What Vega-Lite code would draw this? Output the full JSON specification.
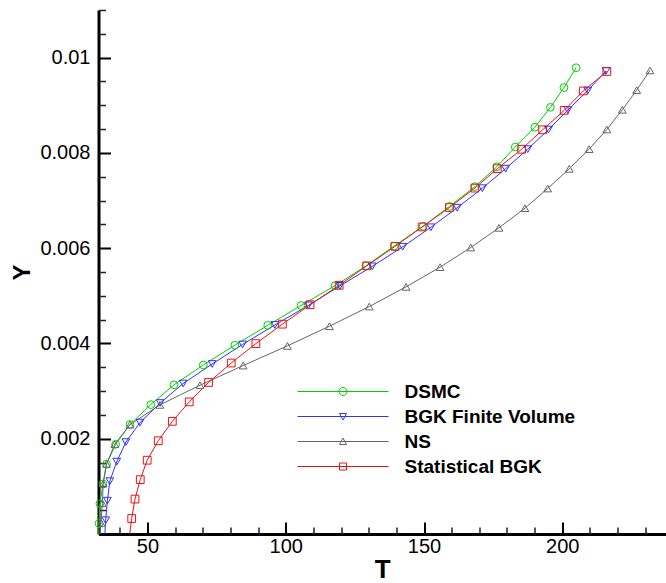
{
  "$schema": "https://vega.github.io/schema/vega-lite/v6.json",
  "width": 567.5,
  "height": 524,
  "autosize": {"type": "none"},
  "padding": {"left": 98.5, "top": 10, "right": 0, "bottom": 49},
  "background": "white",
  "config": {"view": {"stroke": null}, "axis": {"grid": false}},
  "data": {"values": [
    {"series": "DSMC", "T": 32.4, "Y": 0},
    {"series": "DSMC", "T": 32.5, "Y": 0.00022},
    {"series": "DSMC", "T": 32.8, "Y": 0.000636},
    {"series": "DSMC", "T": 33.9, "Y": 0.001052},
    {"series": "DSMC", "T": 35.2, "Y": 0.001468},
    {"series": "DSMC", "T": 38.5, "Y": 0.001884},
    {"series": "DSMC", "T": 43.7, "Y": 0.0023},
    {"series": "DSMC", "T": 51.2, "Y": 0.002716},
    {"series": "DSMC", "T": 59.6, "Y": 0.003132},
    {"series": "DSMC", "T": 70.2, "Y": 0.003548},
    {"series": "DSMC", "T": 81.6, "Y": 0.003964},
    {"series": "DSMC", "T": 93.5, "Y": 0.00438},
    {"series": "DSMC", "T": 105.5, "Y": 0.004796},
    {"series": "DSMC", "T": 117.8, "Y": 0.005212},
    {"series": "DSMC", "T": 129.0, "Y": 0.005628},
    {"series": "DSMC", "T": 139.2, "Y": 0.006044},
    {"series": "DSMC", "T": 149.7, "Y": 0.00646},
    {"series": "DSMC", "T": 159.2, "Y": 0.006876},
    {"series": "DSMC", "T": 168.4, "Y": 0.007292},
    {"series": "DSMC", "T": 176.3, "Y": 0.007708},
    {"series": "DSMC", "T": 183.0, "Y": 0.008124},
    {"series": "DSMC", "T": 190.1, "Y": 0.00854},
    {"series": "DSMC", "T": 195.7, "Y": 0.008956},
    {"series": "DSMC", "T": 200.6, "Y": 0.009372},
    {"series": "DSMC", "T": 205.0, "Y": 0.009788},

    {"series": "BGK Finite Volume", "T": 34.6, "Y": 0},
    {"series": "BGK Finite Volume", "T": 34.9, "Y": 0.000289},
    {"series": "BGK Finite Volume", "T": 35.5, "Y": 0.000699},
    {"series": "BGK Finite Volume", "T": 36.4, "Y": 0.001109},
    {"series": "BGK Finite Volume", "T": 38.9, "Y": 0.001519},
    {"series": "BGK Finite Volume", "T": 42.2, "Y": 0.001929},
    {"series": "BGK Finite Volume", "T": 47.3, "Y": 0.002339},
    {"series": "BGK Finite Volume", "T": 54.6, "Y": 0.002749},
    {"series": "BGK Finite Volume", "T": 62.9, "Y": 0.003159},
    {"series": "BGK Finite Volume", "T": 73.4, "Y": 0.003569},
    {"series": "BGK Finite Volume", "T": 84.4, "Y": 0.003979},
    {"series": "BGK Finite Volume", "T": 96.1, "Y": 0.004389},
    {"series": "BGK Finite Volume", "T": 108.2, "Y": 0.004799},
    {"series": "BGK Finite Volume", "T": 119.6, "Y": 0.005209},
    {"series": "BGK Finite Volume", "T": 131.3, "Y": 0.005619},
    {"series": "BGK Finite Volume", "T": 142.3, "Y": 0.006029},
    {"series": "BGK Finite Volume", "T": 152.5, "Y": 0.006439},
    {"series": "BGK Finite Volume", "T": 162.0, "Y": 0.006849},
    {"series": "BGK Finite Volume", "T": 171.1, "Y": 0.007259},
    {"series": "BGK Finite Volume", "T": 179.5, "Y": 0.007669},
    {"series": "BGK Finite Volume", "T": 187.5, "Y": 0.008079},
    {"series": "BGK Finite Volume", "T": 195.0, "Y": 0.008489},
    {"series": "BGK Finite Volume", "T": 202.0, "Y": 0.008899},
    {"series": "BGK Finite Volume", "T": 209.2, "Y": 0.009309},
    {"series": "BGK Finite Volume", "T": 215.8, "Y": 0.009719},

    {"series": "NS", "T": 32.9, "Y": 0},
    {"series": "NS", "T": 33.2, "Y": 0.000232},
    {"series": "NS", "T": 33.7, "Y": 0.000645},
    {"series": "NS", "T": 34.0, "Y": 0.001058},
    {"series": "NS", "T": 35.2, "Y": 0.001471},
    {"series": "NS", "T": 38.2, "Y": 0.001884},
    {"series": "NS", "T": 43.7, "Y": 0.002297},
    {"series": "NS", "T": 54.5, "Y": 0.00271},
    {"series": "NS", "T": 69.0, "Y": 0.003123},
    {"series": "NS", "T": 84.6, "Y": 0.003536},
    {"series": "NS", "T": 100.6, "Y": 0.003949},
    {"series": "NS", "T": 115.8, "Y": 0.004362},
    {"series": "NS", "T": 130.2, "Y": 0.004775},
    {"series": "NS", "T": 143.5, "Y": 0.005188},
    {"series": "NS", "T": 155.8, "Y": 0.005601},
    {"series": "NS", "T": 166.9, "Y": 0.006014},
    {"series": "NS", "T": 177.1, "Y": 0.006427},
    {"series": "NS", "T": 186.5, "Y": 0.00684},
    {"series": "NS", "T": 194.7, "Y": 0.007253},
    {"series": "NS", "T": 202.5, "Y": 0.007666},
    {"series": "NS", "T": 209.7, "Y": 0.008079},
    {"series": "NS", "T": 216.1, "Y": 0.008492},
    {"series": "NS", "T": 221.7, "Y": 0.008905},
    {"series": "NS", "T": 226.9, "Y": 0.009318},
    {"series": "NS", "T": 231.7, "Y": 0.009731},

    {"series": "Statistical BGK", "T": 43.6, "Y": 0},
    {"series": "Statistical BGK", "T": 44.3, "Y": 0.000325},
    {"series": "Statistical BGK", "T": 45.5, "Y": 0.000733},
    {"series": "Statistical BGK", "T": 47.4, "Y": 0.001141},
    {"series": "Statistical BGK", "T": 49.9, "Y": 0.001549},
    {"series": "Statistical BGK", "T": 53.9, "Y": 0.001957},
    {"series": "Statistical BGK", "T": 59.0, "Y": 0.002365},
    {"series": "Statistical BGK", "T": 65.1, "Y": 0.002773},
    {"series": "Statistical BGK", "T": 72.1, "Y": 0.003181},
    {"series": "Statistical BGK", "T": 80.3, "Y": 0.003589},
    {"series": "Statistical BGK", "T": 89.2, "Y": 0.003997},
    {"series": "Statistical BGK", "T": 98.8, "Y": 0.004405},
    {"series": "Statistical BGK", "T": 108.8, "Y": 0.004813},
    {"series": "Statistical BGK", "T": 119.3, "Y": 0.005221},
    {"series": "Statistical BGK", "T": 129.3, "Y": 0.005629},
    {"series": "Statistical BGK", "T": 139.5, "Y": 0.006037},
    {"series": "Statistical BGK", "T": 149.3, "Y": 0.006445},
    {"series": "Statistical BGK", "T": 159.2, "Y": 0.006853},
    {"series": "Statistical BGK", "T": 168.4, "Y": 0.007261},
    {"series": "Statistical BGK", "T": 176.5, "Y": 0.007669},
    {"series": "Statistical BGK", "T": 185.3, "Y": 0.008077},
    {"series": "Statistical BGK", "T": 192.9, "Y": 0.008485},
    {"series": "Statistical BGK", "T": 200.7, "Y": 0.008893},
    {"series": "Statistical BGK", "T": 207.6, "Y": 0.009301},
    {"series": "Statistical BGK", "T": 216.1, "Y": 0.009709}
  ]},
  "resolve": {
    "scale": {"shape": "independent", "color": "independent"},
    "axis": {"x": "independent", "y": "independent"}
  },
  "layer": [
    {
      "mark": {"type": "line", "strokeWidth": 1},
      "encoding": {
        "x": {"field": "T", "type": "quantitative",
          "scale": {"domain": [32.3, 237.5], "nice": false, "zero": false},
          "axis": {"orient": "bottom", "values": [50, 100, 150, 200], "format": "d",
            "tickSize": -12, "tickWidth": 2, "tickColor": "black",
            "domainColor": "black", "domainWidth": 3,
            "labelFont": "Liberation Sans", "labelFontSize": 20, "labelColor": "black",
            "labelPadding": 14.5, "labelFlush": false, "labelOverlap": false,
            "title": "T", "titleFont": "Liberation Sans", "titleFontSize": 26,
            "titleFontWeight": "bold", "titleColor": "black", "titlePadding": 0}},
        "y": {"field": "Y", "type": "quantitative",
          "scale": {"domain": [0, 0.011], "nice": false, "zero": false},
          "axis": {"orient": "left", "values": [0.002, 0.004, 0.006, 0.008, 0.01], "format": "~g",
            "tickSize": -12, "tickWidth": 2, "tickColor": "black",
            "domainColor": "black", "domainWidth": 3,
            "labelFont": "Liberation Sans", "labelFontSize": 20, "labelColor": "black",
            "labelPadding": 20.5, "labelFlush": false, "labelOverlap": false,
            "title": "Y", "titleFont": "Liberation Sans", "titleFontSize": 24,
            "titleFontWeight": "bold", "titleColor": "black", "titlePadding": 5}},
        "color": {"field": "series", "type": "nominal",
          "scale": {"domain": ["DSMC", "BGK Finite Volume", "NS", "Statistical BGK"],
                    "range": ["#00d000", "#3030ff", "#666666", "#ee1111"]},
          "legend": null},
        "order": {"field": "Y", "type": "quantitative"}
      }
    },
    {
      "transform": [{"filter": "datum.Y > 0"}],
      "mark": {"type": "point", "filled": false, "size": 60, "strokeWidth": 1, "opacity": 1},
      "encoding": {
        "x": {"field": "T", "type": "quantitative",
          "scale": {"domain": [32.3, 237.5], "nice": false, "zero": false},
          "axis": {"orient": "bottom", "values": [40, 60, 70, 80, 90, 110, 120, 130, 140, 160, 170, 180, 190, 210, 220, 230],
            "tickSize": -7, "tickWidth": 1.5, "tickColor": "#222222",
            "domainColor": "black", "domainWidth": 3,
            "labels": false, "domain": false, "title": null}},
        "y": {"field": "Y", "type": "quantitative",
          "scale": {"domain": [0, 0.011], "nice": false, "zero": false},
          "axis": {"orient": "left", "values": [0.0005, 0.001, 0.0015, 0.0025, 0.003, 0.0035, 0.0045, 0.005, 0.0055, 0.0065, 0.007, 0.0075, 0.0085, 0.009, 0.0095, 0.0105, 0.011],
            "tickSize": -7, "tickWidth": 1.5, "tickColor": "#222222",
            "domainColor": "black", "domainWidth": 3,
            "labels": false, "domain": false, "title": null}},
        "color": {"field": "series", "type": "nominal",
          "scale": {"domain": ["DSMC", "BGK Finite Volume", "NS", "Statistical BGK"],
                    "range": ["#00d000", "#3030ff", "#666666", "#ee1111"]},
          "legend": null},
        "shape": {"field": "series", "type": "nominal",
          "scale": {"domain": ["DSMC", "BGK Finite Volume", "NS", "Statistical BGK"],
                    "range": ["circle", "triangle-down", "triangle-up", "square"]},
          "legend": null}
      }
    },
    {
      "transform": [{"filter": "datum.Y < 0"}],
      "mark": {"type": "point", "filled": false, "strokeWidth": 1, "opacity": 1},
      "encoding": {
        "x": {"field": "T", "type": "quantitative",
          "scale": {"domain": [32.3, 237.5], "nice": false, "zero": false}, "axis": null},
        "y": {"field": "Y", "type": "quantitative",
          "scale": {"domain": [0, 0.011], "nice": false, "zero": false}, "axis": null},
        "color": {"field": "series", "type": "nominal",
          "scale": {"domain": ["DSMC", "BGK Finite Volume", "NS", "Statistical BGK"],
                    "range": ["#00d000", "#3030ff", "#666666", "#ee1111"]},
          "legend": {"title": null, "orient": "none", "legendX": 235, "legendY": 372,
            "symbolSize": 4, "symbolStrokeWidth": 1,
            "labelFont": "Liberation Sans", "labelFontSize": 19, "labelFontWeight": "bold",
            "labelColor": "black", "labelOffset": 52, "rowPadding": 5, "labelLimit": 400, "padding": 0}},
        "shape": {"field": "series", "type": "nominal",
          "scale": {"domain": ["DSMC", "BGK Finite Volume", "NS", "Statistical BGK"],
                    "range": [
                      "M-45.5,0H45.5M4,0A4,4 0 1,1 -4,0A4,4 0 1,1 4,0",
                      "M-45.5,0H45.5M-3.5,-3H3.5L0,3.5Z",
                      "M-45.5,0H45.5M-3.5,3H3.5L0,-3.5Z",
                      "M-45.5,0H45.5M-3.5,-3.5H3.5V3.5H-3.5Z"]},
          "legend": {"title": null, "orient": "none", "legendX": 235, "legendY": 372,
            "symbolSize": 4, "symbolStrokeWidth": 1,
            "labelFont": "Liberation Sans", "labelFontSize": 19, "labelFontWeight": "bold",
            "labelColor": "black", "labelOffset": 52, "rowPadding": 5, "labelLimit": 400, "padding": 0}}
      }
    }
  ]
}
